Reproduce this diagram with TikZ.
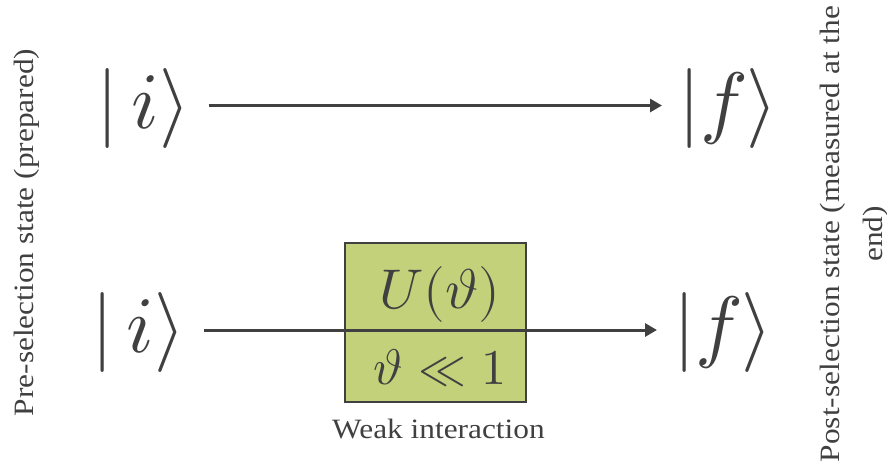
\documentclass[tikz,border=0pt]{standalone}
\usepackage{fontspec}
\usepackage{unicode-math}
\setmainfont{Liberation Serif}
\setmathfont{Latin Modern Math}
\usetikzlibrary{arrows.meta}
\definecolor{txt}{HTML}{404040}
\definecolor{boxfill}{HTML}{C4D17B}
\newcommand\widetxt[1]{\scalebox{1.12}[1]{#1}}
\tikzset{
  ket/.style={text=txt, inner sep=0pt, font=\fontsize{80}{80}\selectfont},
  wire/.style={draw=txt, line width=3pt, -{Triangle[length=12pt,width=13pt]}},
  sidelabel/.style={text=txt, rotate=90, font=\fontsize{28}{43}\selectfont, inner sep=0pt},
  gatebox/.style={draw=txt, line width=1.6pt, fill=boxfill, minimum width=181pt, minimum height=159pt, inner sep=0pt},
  boxtext/.style={text=txt, inner sep=0pt},
}
\begin{document}
\begin{tikzpicture}[x=1pt,y=-1pt]
\useasboundingbox (0,0) rectangle (887,471);
% gate box
\node[gatebox] (box) at (435.5,322.5) {};
\node[boxtext, anchor=base, font=\fontsize{56}{56}\selectfont] (U) at (439.5,308) {$U(\vartheta)$};
\node[boxtext, anchor=base, font=\fontsize{50}{50}\selectfont] (th) at (440,384) {$\vartheta \ll 1$};
\node[boxtext, anchor=base, font=\fontsize{28}{28}\selectfont] (weak) at (438.5,438) {\widetxt{Weak interaction}};
% kets
\node[ket, anchor=base west] (i1) at (96,128) {$|\,i\rangle$};
\node[ket, anchor=base west] (f1) at (678,128) {$|f\rangle$};
\node[ket, anchor=base west] (i2) at (91,352) {$|\,i\rangle$};
\node[ket, anchor=base west] (f2) at (673,352) {$|f\rangle$};
% wires
\draw[wire, shorten <=18pt, shorten >=16pt] (i1.east |- 0,105.5) -- (f1.west |- 0,105.5);
\draw[wire, shorten <=18pt, shorten >=16pt] (i2.east |- 0,330) -- (f2.west |- 0,330);
% side labels
\node[sidelabel, anchor=base] (pre) at (33,232.5) {\widetxt{Pre-selection state (prepared)}};
\node[sidelabel, align=center] (post) at (854,234) {\widetxt{Post-selection state (measured at the}\\\widetxt{end)}};
\end{tikzpicture}
\end{document}
